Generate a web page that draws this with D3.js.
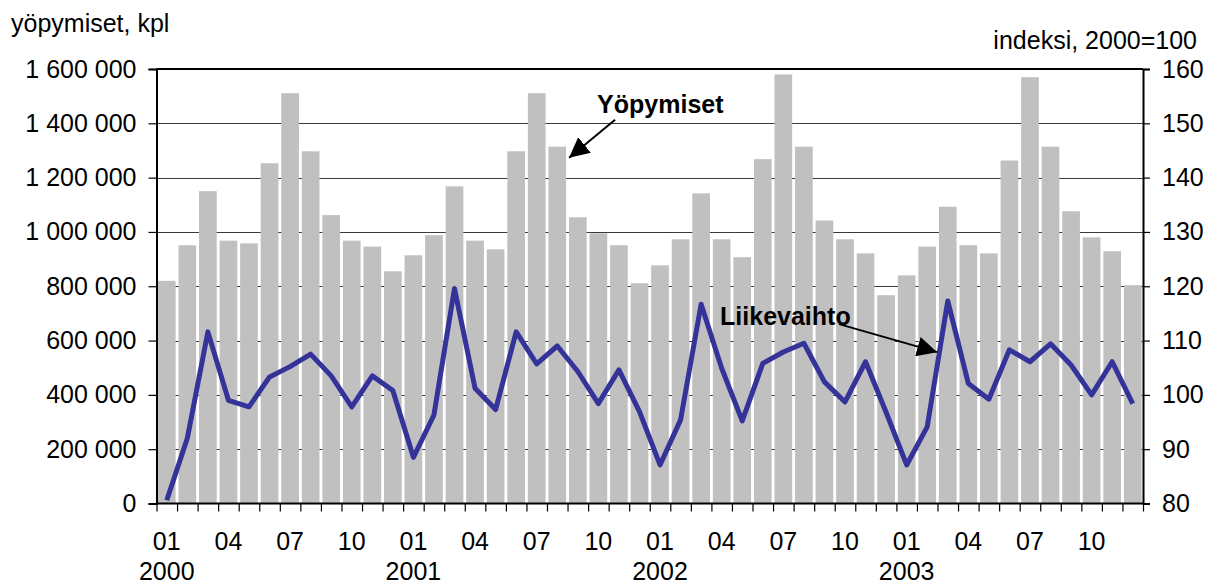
<!DOCTYPE html>
<html>
<head>
<meta charset="utf-8">
<script src="https://cdn.jsdelivr.net/npm/d3@7/dist/d3.min.js"></script>
<style>
  html, body { margin: 0; padding: 0; background: #fff; }
  svg { display: block; }
  text { font-family: "Liberation Sans", Arial, sans-serif; fill: #000; }
</style>
</head>
<body>
<svg id="chart" width="1207" height="586"></svg>
<script>
// ---- Data ----
const months = [
  "2000-01","2000-02","2000-03","2000-04","2000-05","2000-06","2000-07","2000-08","2000-09","2000-10","2000-11","2000-12",
  "2001-01","2001-02","2001-03","2001-04","2001-05","2001-06","2001-07","2001-08","2001-09","2001-10","2001-11","2001-12",
  "2002-01","2002-02","2002-03","2002-04","2002-05","2002-06","2002-07","2002-08","2002-09","2002-10","2002-11","2002-12",
  "2003-01","2003-02","2003-03","2003-04","2003-05","2003-06","2003-07","2003-08","2003-09","2003-10","2003-11","2003-12"
];
// Yöpymiset (overnight stays), kpl — left axis
const yopymiset = [
  820000, 951000, 1150000, 968000, 958000, 1253000, 1511000, 1297000, 1062000, 968000, 946000, 855000,
  914000, 988000, 1168000, 968000, 936000, 1297000, 1511000, 1314000, 1054000, 995000, 951000, 811000,
  877000, 973000, 1142000, 973000, 907000, 1268000, 1580000, 1314000, 1042000, 973000, 921000, 767000,
  840000, 946000, 1093000, 951000, 921000, 1263000, 1570000, 1314000, 1076000, 980000, 929000, 804000
];
// Liikevaihto (turnover) index, 2000=100 — right axis
const liikevaihto = [
  80.6, 92.0, 111.6, 99.0, 97.8, 103.3, 105.2, 107.5, 103.5, 97.8, 103.5, 100.8,
  88.5, 96.3, 119.6, 101.2, 97.3, 111.6, 105.7, 109.0, 104.3, 98.4, 104.6, 96.9,
  87.1, 95.4, 116.7, 104.9, 95.2, 105.8, 107.9, 109.5, 102.4, 98.7, 106.1, 96.8,
  87.1, 94.1, 117.3, 102.1, 99.2, 108.3, 106.1, 109.4, 105.5, 100.0, 106.1, 98.4
];
const leftTicks = [0, 200000, 400000, 600000, 800000, 1000000, 1200000, 1400000, 1600000];
const rightTicks = [80, 90, 100, 110, 120, 130, 140, 150, 160];
const monthLabels = ["01", "04", "07", "10"];
const yearLabels = ["2000", "2001", "2002", "2003"];
const leftTitle = "yöpymiset, kpl";
const rightTitle = "indeksi, 2000=100";
const barLabel = "Yöpymiset";
const lineLabel = "Liikevaihto";

// ---- Layout ----
const L = 156.5, R = 1143, T = 69, B = 503.5;
const svg = d3.select("#chart");

const x = d3.scaleBand().domain(months).range([L, R]).paddingInner(0.14).paddingOuter(0.07);
const xEdge = d3.scaleLinear().domain([0, months.length]).range([L, R]);
const yL = d3.scaleLinear().domain([0, 1600000]).range([B, T]);
const yR = d3.scaleLinear().domain([80, 160]).range([B, T]);
const cx = m => x(m) + x.bandwidth() / 2;

const fmt = v => d3.format(",")(v).replace(/,/g, " ");

// gridlines (behind bars)
svg.append("g")
  .selectAll("line")
  .data(leftTicks.slice(1, -1))
  .join("line")
  .attr("x1", L).attr("x2", R)
  .attr("y1", d => Math.round(yL(d)) + 0.5).attr("y2", d => Math.round(yL(d)) + 0.5)
  .attr("stroke", "#3a3a3a").attr("stroke-width", 1);

// bars
svg.append("g")
  .selectAll("rect")
  .data(yopymiset)
  .join("rect")
  .attr("x", (d, i) => x(months[i]))
  .attr("width", x.bandwidth())
  .attr("y", d => yL(d))
  .attr("height", d => B - yL(d))
  .attr("fill", "#c0c0c0");

// top frame line
svg.append("line").attr("x1", L).attr("x2", R).attr("y1", T).attr("y2", T)
  .attr("stroke", "#000").attr("stroke-width", 2);

// left axis
const gL = svg.append("g").attr("transform", `translate(${L},0)`)
  .call(d3.axisLeft(yL).tickValues(leftTicks).tickFormat(fmt).tickSize(8).tickPadding(12));
// right axis
const gR = svg.append("g").attr("transform", `translate(${R},0)`)
  .call(d3.axisRight(yR).tickValues(rightTicks).tickSize(7).tickPadding(12));
// bottom axis: tick marks at band edges
const gB = svg.append("g").attr("transform", `translate(0,${B})`)
  .call(d3.axisBottom(xEdge).tickValues(d3.range(months.length + 1)).tickFormat("").tickSize(8));

[gL, gR, gB].forEach(g => {
  g.select(".domain").attr("stroke", "#000").attr("stroke-width", 2);
  g.selectAll(".tick line").attr("stroke", "#000").attr("stroke-width", 1.2);
  g.selectAll(".tick text").style("font-size", "25px").attr("fill", "#000")
    .style("font-family", '"Liberation Sans", Arial, sans-serif');
});
gB.select(".domain").attr("d", `M${L},0H${R}`);

// month labels
const labelled = months.filter(m => monthLabels.includes(m.slice(5)));
svg.append("g").selectAll("text")
  .data(labelled)
  .join("text")
  .attr("x", d => cx(d))
  .attr("y", 550)
  .attr("text-anchor", "middle")
  .style("font-size", "25px")
  .text(d => d.slice(5));
// year labels
svg.append("g").selectAll("text")
  .data(yearLabels)
  .join("text")
  .attr("x", d => cx(d + "-01"))
  .attr("y", 580)
  .attr("text-anchor", "middle")
  .style("font-size", "25px")
  .text(d => d);

// line
const line = d3.line().x((d, i) => cx(months[i])).y(d => yR(d));
svg.append("path")
  .datum(liikevaihto)
  .attr("d", line)
  .attr("fill", "none")
  .attr("stroke", "#333399")
  .attr("stroke-width", 5)
  .attr("stroke-linejoin", "round");

// titles
svg.append("text").attr("x", 11).attr("y", 32).style("font-size", "25px").text(leftTitle);
svg.append("text").attr("x", 1197).attr("y", 49).attr("text-anchor", "end").style("font-size", "25px").text(rightTitle);

// annotations with arrows
const defs = svg.append("defs");
defs.append("marker").attr("id", "ah").attr("viewBox", "0 0 20 20")
  .attr("refX", 20).attr("refY", 10).attr("markerWidth", 20).attr("markerHeight", 20)
  .attr("markerUnits", "userSpaceOnUse").attr("orient", "auto")
  .append("path").attr("d", "M0,0L20,10L0,20Z").attr("fill", "#000");

// Yöpymiset: arrow points to the 2001-08 bar
const bm = "2001-08", bv = yopymiset[months.indexOf(bm)];
const tip1 = [x(bm) + x.bandwidth() + 3, yL(bv) + 11];
svg.append("line").attr("x1", tip1[0] + 46).attr("y1", tip1[1] - 38).attr("x2", tip1[0]).attr("y2", tip1[1])
  .attr("stroke", "#000").attr("stroke-width", 2).attr("marker-end", "url(#ah)");
svg.append("text").attr("x", tip1[0] + 28).attr("y", tip1[1] - 45)
  .style("font-size", "25px").style("font-weight", "bold").text(barLabel);

// Liikevaihto: arrow points to segment 2003-02 -> 2003-03
const m1 = "2003-02", m2 = "2003-03";
const t = 0.53;
const px = cx(m1) + t * (cx(m2) - cx(m1));
const py = yR(liikevaihto[months.indexOf(m1)]) + t * (yR(liikevaihto[months.indexOf(m2)]) - yR(liikevaihto[months.indexOf(m1)]));
const tip2 = [px - 1, py - 8];
svg.append("line").attr("x1", tip2[0] - 98).attr("y1", tip2[1] - 28).attr("x2", tip2[0]).attr("y2", tip2[1])
  .attr("stroke", "#000").attr("stroke-width", 2).attr("marker-end", "url(#ah)");
svg.append("text").attr("x", tip2[0] - 217).attr("y", tip2[1] - 27)
  .style("font-size", "25px").style("font-weight", "bold").text(lineLabel);
</script>
</body>
</html>
